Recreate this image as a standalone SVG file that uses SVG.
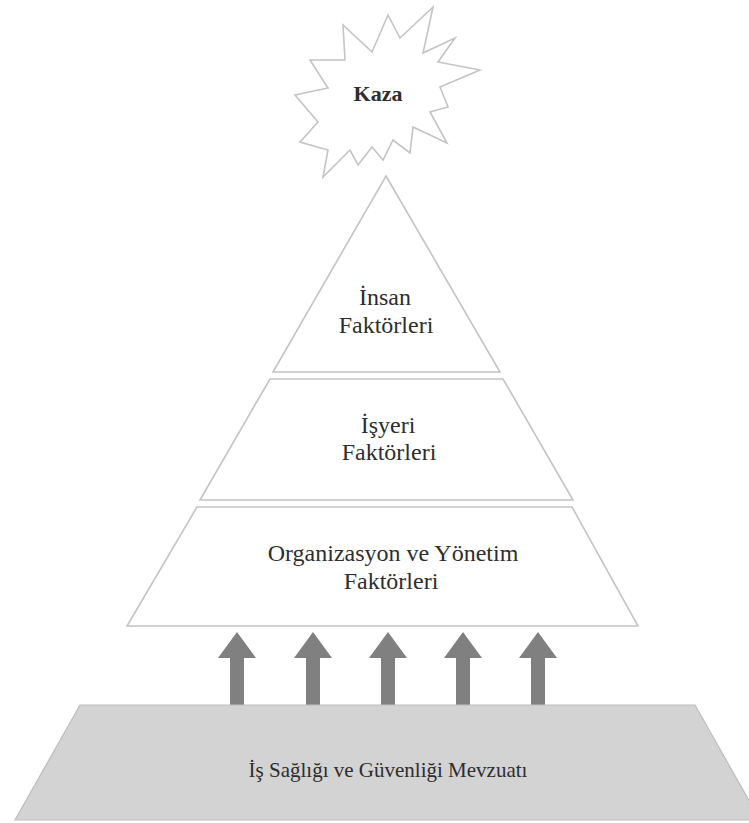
<svg xmlns="http://www.w3.org/2000/svg" width="749" height="823" viewBox="0 0 749 823">
<style>
.shape{fill:#ffffff;stroke:#c4c4c4;stroke-width:1.6;stroke-linejoin:miter}
.base{fill:#d3d3d3;stroke:#bdbdbd;stroke-width:1.2}
.lbl{font-family:'Liberation Serif','Times New Roman',serif;font-size:24px;fill:#2e2e2e;text-anchor:middle}
.arrow{fill:#808080}
</style>
<rect width="749" height="823" fill="#ffffff"/>
<g id="kaza">
<polygon class="shape" stroke="#b8b8b8" points="433,7 423,53 455,38 438,62 480,70 440,87 448,107 430,112 447,143 413,127 410,153 393,140 383,160 372,147 358,165 350,150 323,177 328,150 300,142 318,122 295,95 328,88 310,60 345,60 343,25 372,52 388,15 400,38"/>
<text class="lbl" x="378" y="101" font-weight="bold" style="font-size:22px">Kaza</text>
</g>
<g id="insan">
<polygon class="shape" points="386,176 500,372 273,372"/>
<text class="lbl" x="385" y="305">İnsan</text>
<text class="lbl" x="386" y="333">Faktörleri</text>
</g>
<g id="isyeri">
<polygon class="shape" points="270,379 503,379 573,500 200,500"/>
<text class="lbl" x="388" y="433">İşyeri</text>
<text class="lbl" x="389" y="460">Faktörleri</text>
</g>
<g id="organizasyon">
<polygon class="shape" points="197,507 572,507 638,626 127,626"/>
<text class="lbl" x="393" y="561">Organizasyon ve Yönetim</text>
<text class="lbl" x="391" y="589">Faktörleri</text>
</g>
<g id="connectors">
<polygon class="arrow" points="237,632 256,658 244,658 244,706 230,706 230,658 218,658"/>
<polygon class="arrow" points="313,632 332,658 320,658 320,706 306,706 306,658 294,658"/>
<polygon class="arrow" points="388,632 407,658 395,658 395,706 381,706 381,658 369,658"/>
<polygon class="arrow" points="463,632 482,658 470,658 470,706 456,706 456,658 444,658"/>
<polygon class="arrow" points="538,632 557,658 545,658 545,706 531,706 531,658 519,658"/>
</g>
<g id="mevzuat">
<polygon class="base" points="80,705 695,705 760,820 15,820"/>
<text class="lbl" x="388" y="777" style="font-size:21px">İş Sağlığı ve Güvenliği Mevzuatı</text>
</g>
</svg>
